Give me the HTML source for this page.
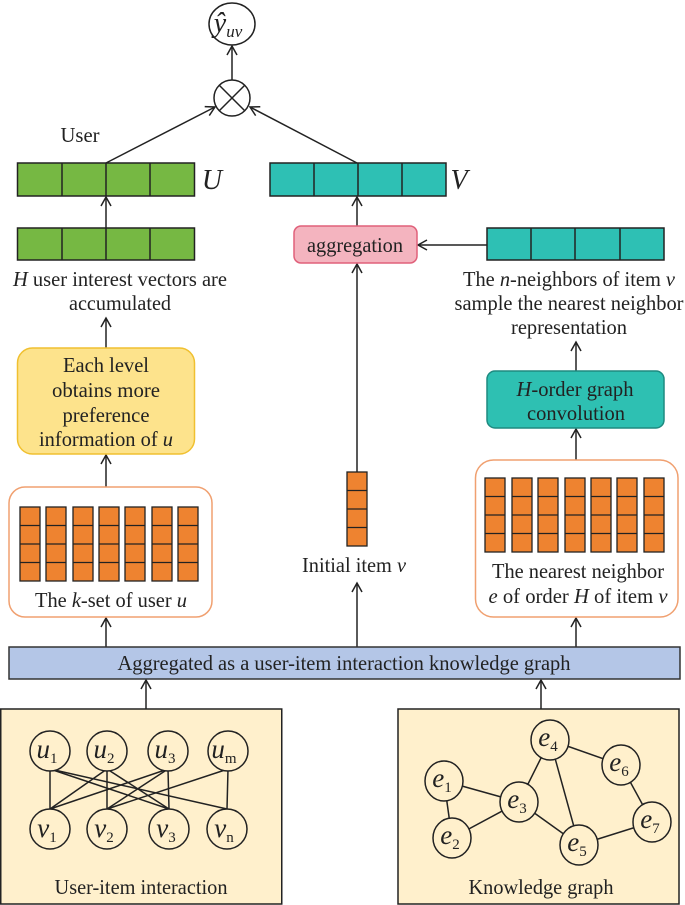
<!DOCTYPE html>
<html><head><meta charset="utf-8"><style>html,body{margin:0;padding:0;background:#fff}svg{display:block}</style></head><body>
<svg width="685" height="905" viewBox="0 0 685 905" xmlns="http://www.w3.org/2000/svg" font-family="Liberation Serif, serif" font-size="21" fill="#222">
<defs>
<marker id="a" markerWidth="12" markerHeight="12" refX="10" refY="6" orient="auto" markerUnits="userSpaceOnUse">
<path d="M1,1 L10,6 L1,11" fill="none" stroke="#222" stroke-width="1.5"/></marker>
</defs>
<g stroke="#222" stroke-width="1.5" fill="none">
<ellipse cx="232" cy="24" rx="23" ry="21" fill="#fff"/>
<circle cx="232" cy="98" r="18" fill="#fff"/>
<line x1="219" y1="85" x2="245" y2="111"/><line x1="245" y1="85" x2="219" y2="111"/>
<line x1="232" y1="80" x2="232" y2="46" marker-end="url(#a)"/>
<line x1="106" y1="163" x2="215" y2="107" marker-end="url(#a)"/>
<line x1="357" y1="163" x2="250" y2="107" marker-end="url(#a)"/>
<line x1="106" y1="228" x2="106" y2="197" marker-end="url(#a)"/>
<line x1="357" y1="226" x2="357" y2="197" marker-end="url(#a)"/>
<line x1="487" y1="245" x2="418" y2="245" marker-end="url(#a)"/>
<line x1="106" y1="348" x2="106" y2="318" marker-end="url(#a)"/>
<line x1="106" y1="487" x2="106" y2="455" marker-end="url(#a)"/>
<line x1="106" y1="647" x2="106" y2="618" marker-end="url(#a)"/>
<line x1="357" y1="472" x2="357" y2="264" marker-end="url(#a)"/>
<line x1="357" y1="647" x2="357" y2="583" marker-end="url(#a)"/>
<line x1="576" y1="371" x2="576" y2="342" marker-end="url(#a)"/>
<line x1="576" y1="460" x2="576" y2="429" marker-end="url(#a)"/>
<line x1="576" y1="647" x2="576" y2="618" marker-end="url(#a)"/>
<line x1="146" y1="709" x2="146" y2="680" marker-end="url(#a)"/>
<line x1="541" y1="709" x2="541" y2="680" marker-end="url(#a)"/>
</g>
<g stroke="#222" stroke-width="1.5">
<rect x="17.5" y="163" width="177" height="33" fill="#76b843"/>
<line x1="62" y1="163" x2="62" y2="196"/><line x1="106" y1="163" x2="106" y2="196"/><line x1="150" y1="163" x2="150" y2="196"/>
<rect x="17.5" y="228" width="177" height="32" fill="#76b843"/>
<line x1="62" y1="228" x2="62" y2="260"/><line x1="106" y1="228" x2="106" y2="260"/><line x1="150" y1="228" x2="150" y2="260"/>
<rect x="270" y="163" width="176" height="33" fill="#2ec0b4"/>
<line x1="314" y1="163" x2="314" y2="196"/><line x1="358" y1="163" x2="358" y2="196"/><line x1="402" y1="163" x2="402" y2="196"/>
<rect x="487" y="228" width="177" height="32" fill="#2ec0b4"/>
<line x1="531" y1="228" x2="531" y2="260"/><line x1="575" y1="228" x2="575" y2="260"/><line x1="620" y1="228" x2="620" y2="260"/>
</g>
<rect x="294" y="226" width="123" height="37" rx="7" fill="#f4b4bf" stroke="#e0607a" stroke-width="1.5"/>
<rect x="17.5" y="348" width="177" height="106" rx="15" fill="#fde38c" stroke="#f0c030" stroke-width="1.5"/>
<rect x="9" y="487" width="203" height="130" rx="16" fill="#fff" stroke="#f0a070" stroke-width="1.5"/>
<rect x="475.5" y="460" width="202.5" height="157" rx="18" fill="#fff" stroke="#f0a070" stroke-width="1.5"/>
<rect x="487" y="371" width="177" height="57" rx="8" fill="#2ec0b2" stroke="#1e8a80" stroke-width="1.5"/>
<rect x="9" y="647" width="671" height="32" fill="#b4c6e7" stroke="#333" stroke-width="1.5"/>
<rect x="0.75" y="709" width="281" height="195" fill="#fff0cc" stroke="#222" stroke-width="1.5"/>
<rect x="398" y="709" width="281" height="195" fill="#fff0cc" stroke="#222" stroke-width="1.5"/>
<g fill="#ee8330" stroke="#222" stroke-width="1.3">
<g id="colL">
<rect x="20" y="507" width="20" height="74"/><line x1="20" y1="525.5" x2="40" y2="525.5"/><line x1="20" y1="544" x2="40" y2="544"/><line x1="20" y1="562.5" x2="40" y2="562.5"/>
</g>
<use href="#colL" x="26"/><use href="#colL" x="53"/><use href="#colL" x="79"/><use href="#colL" x="105"/><use href="#colL" x="132"/><use href="#colL" x="158"/>
<use href="#colL" x="465" y="-29"/><use href="#colL" x="492" y="-29"/><use href="#colL" x="518" y="-29"/><use href="#colL" x="545" y="-29"/><use href="#colL" x="571" y="-29"/><use href="#colL" x="597" y="-29"/><use href="#colL" x="624" y="-29"/>
<use href="#colL" x="327" y="-35"/>
</g>
<g stroke="#222" stroke-width="1.5">
<line x1="50" y1="769" x2="50" y2="809"/><line x1="50" y1="769" x2="169" y2="809"/><line x1="50" y1="769" x2="227" y2="809"/>
<line x1="107" y1="769" x2="50" y2="809"/><line x1="107" y1="769" x2="107" y2="809"/><line x1="107" y1="769" x2="169" y2="809"/>
<line x1="168" y1="769" x2="50" y2="809"/><line x1="168" y1="769" x2="107" y2="809"/><line x1="168" y1="769" x2="169" y2="809"/>
<line x1="228" y1="769" x2="107" y2="809"/><line x1="228" y1="769" x2="227" y2="809"/>
<line x1="444" y1="781" x2="519" y2="802"/><line x1="444" y1="781" x2="452" y2="838"/><line x1="452" y1="838" x2="519" y2="802"/>
<line x1="519" y1="802" x2="550" y2="740"/><line x1="519" y1="802" x2="579" y2="845"/><line x1="550" y1="740" x2="579" y2="845"/>
<line x1="550" y1="740" x2="621" y2="765"/><line x1="621" y1="765" x2="652" y2="822"/><line x1="652" y1="822" x2="579" y2="845"/>
</g>
<g fill="#fff0cc" stroke="#222" stroke-width="1.5">
<ellipse cx="50" cy="751" rx="20" ry="20"/><ellipse cx="107" cy="751" rx="20" ry="20"/><ellipse cx="168" cy="751" rx="20" ry="20"/><ellipse cx="228" cy="751" rx="20" ry="20"/>
<ellipse cx="50" cy="829" rx="20" ry="20"/><ellipse cx="107" cy="829" rx="20" ry="20"/><ellipse cx="169" cy="829" rx="20" ry="20"/><ellipse cx="227" cy="829" rx="20" ry="20"/>
<ellipse cx="444" cy="781" rx="19" ry="20"/><ellipse cx="452" cy="838" rx="19" ry="20"/><ellipse cx="519" cy="802" rx="19" ry="20"/><ellipse cx="550" cy="740" rx="19" ry="20"/><ellipse cx="579" cy="845" rx="19" ry="20"/><ellipse cx="621" cy="765" rx="19" ry="20"/><ellipse cx="652" cy="822" rx="19" ry="20"/>
</g>
<g font-style="italic" font-size="27" text-anchor="middle">
<text x="47" y="758">u<tspan font-style="normal" font-size="15" dy="5">1</tspan></text>
<text x="104" y="758">u<tspan font-style="normal" font-size="15" dy="5">2</tspan></text>
<text x="165" y="758">u<tspan font-style="normal" font-size="15" dy="5">3</tspan></text>
<text x="224" y="758">u<tspan font-style="normal" font-size="15" dy="5">m</tspan></text>
<text x="47" y="837">v<tspan font-style="normal" font-size="15" dy="5">1</tspan></text>
<text x="104" y="837">v<tspan font-style="normal" font-size="15" dy="5">2</tspan></text>
<text x="166" y="837">v<tspan font-style="normal" font-size="15" dy="5">3</tspan></text>
<text x="224" y="837">v<tspan font-style="normal" font-size="15" dy="5">n</tspan></text>
<text x="442" y="787">e<tspan font-style="normal" font-size="15" dy="5">1</tspan></text>
<text x="450" y="844">e<tspan font-style="normal" font-size="15" dy="5">2</tspan></text>
<text x="517" y="808">e<tspan font-style="normal" font-size="15" dy="5">3</tspan></text>
<text x="548" y="746">e<tspan font-style="normal" font-size="15" dy="5">4</tspan></text>
<text x="577" y="851">e<tspan font-style="normal" font-size="15" dy="5">5</tspan></text>
<text x="619" y="771">e<tspan font-style="normal" font-size="15" dy="5">6</tspan></text>
<text x="650" y="828">e<tspan font-style="normal" font-size="15" dy="5">7</tspan></text>
<text x="228" y="32" font-size="28">ŷ<tspan font-size="17" dy="5">uv</tspan></text>
<text x="212" y="189" font-size="28">U</text>
<text x="459" y="189" font-size="28">V</text>
</g>
<g text-anchor="middle">
<text x="80" y="142" textLength="39" lengthAdjust="spacingAndGlyphs">User</text>
<text x="355" y="252" textLength="96" lengthAdjust="spacingAndGlyphs">aggregation</text>
<text x="120" y="286" textLength="214" lengthAdjust="spacingAndGlyphs"><tspan font-style="italic">H</tspan> user interest vectors are</text>
<text x="120" y="310" textLength="102" lengthAdjust="spacingAndGlyphs">accumulated</text>
<text x="569" y="286" textLength="212" lengthAdjust="spacingAndGlyphs">The <tspan font-style="italic">n</tspan>-neighbors of item <tspan font-style="italic">v</tspan></text>
<text x="569" y="310" textLength="229" lengthAdjust="spacingAndGlyphs">sample the nearest neighbor</text>
<text x="569" y="334" textLength="116" lengthAdjust="spacingAndGlyphs">representation</text>
<text x="106" y="372" textLength="86" lengthAdjust="spacingAndGlyphs">Each level</text>
<text x="106" y="397" textLength="108" lengthAdjust="spacingAndGlyphs">obtains more</text>
<text x="106" y="422" textLength="87" lengthAdjust="spacingAndGlyphs">preference</text>
<text x="106" y="446" textLength="134" lengthAdjust="spacingAndGlyphs">information of <tspan font-style="italic">u</tspan></text>
<text x="575" y="396" textLength="117" lengthAdjust="spacingAndGlyphs"><tspan font-style="italic">H</tspan>-order graph</text>
<text x="576" y="420" textLength="98" lengthAdjust="spacingAndGlyphs">convolution</text>
<text x="111" y="607" textLength="152" lengthAdjust="spacingAndGlyphs">The <tspan font-style="italic">k</tspan>-set of user <tspan font-style="italic">u</tspan></text>
<text x="354" y="572" textLength="104" lengthAdjust="spacingAndGlyphs">Initial item <tspan font-style="italic">v</tspan></text>
<text x="578" y="578" textLength="172" lengthAdjust="spacingAndGlyphs">The nearest neighbor</text>
<text x="578" y="603" textLength="179" lengthAdjust="spacingAndGlyphs"><tspan font-style="italic">e</tspan> of order <tspan font-style="italic">H</tspan> of item <tspan font-style="italic">v</tspan></text>
<text x="344" y="670" textLength="453" lengthAdjust="spacingAndGlyphs">Aggregated as a user-item interaction knowledge graph</text>
<text x="141" y="894" textLength="173" lengthAdjust="spacingAndGlyphs">User-item interaction</text>
<text x="541" y="894" textLength="145" lengthAdjust="spacingAndGlyphs">Knowledge graph</text>
</g>
</svg>
</body></html>
